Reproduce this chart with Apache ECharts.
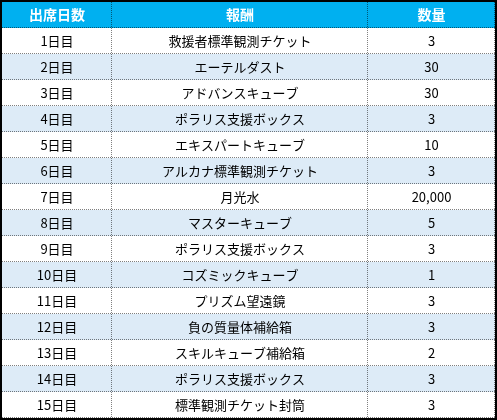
<!DOCTYPE html>
<html><head><meta charset="utf-8">
<script src="https://cdn.jsdelivr.net/npm/echarts@6/dist/echarts.min.js"></script>
<style>html,body{margin:0;padding:0;background:#fff}#c{width:497px;height:420px}</style>
</head><body><div id="c"></div>
<script>
const headers = ['出席日数','報酬','数量'];
const days = ['1日目','2日目','3日目','4日目','5日目','6日目','7日目','8日目','9日目','10日目','11日目','12日目','13日目','14日目','15日目'];
const rewards = ['救援者標準観測チケット','エーテルダスト','アドバンスキューブ','ポラリス支援ボックス','エキスパートキューブ','アルカナ標準観測チケット','月光水','マスターキューブ','ポラリス支援ボックス','コズミックキューブ','プリズム望遠鏡','負の質量体補給箱','スキルキューブ補給箱','ポラリス支援ボックス','標準観測チケット封筒'];
const quantities = ['3','30','30','3','10','3','20,000','5','3','1','3','3','2','3','3'];

const colEdges = [0, 110, 366, 493];
const rows = [headers].concat(days.map((d,i)=>[d, rewards[i], quantities[i]]));
const data = [];
rows.forEach((r,ri)=>r.forEach((t,ci)=>data.push([ci, ri, t])));
const font = '"Noto Sans CJK JP","Noto Sans",sans-serif';

const chart = echarts.init(document.getElementById('c'));
chart.setOption({
  animation:false,
  grid:{left:2,top:2,width:493,height:416},
  xAxis:{type:'value',min:0,max:493,show:false},
  yAxis:{type:'category',data:rows.map((r,i)=>i),inverse:true,show:false},
  series:[{
    type:'custom',
    data:data,
    renderItem:function(params, api){
      const ci = api.value(0), ri = api.value(1);
      const h = api.size([0,1])[1];
      const c = api.coord([colEdges[ci], ri]);
      const c2 = api.coord([colEdges[ci+1], ri]);
      const x = c[0], y = c[1]-h/2, w = c2[0]-c[0];
      const header = ri===0;
      const fill = header ? '#00B0F0' : (ri%2===0 ? '#DDEBF7' : '#FFFFFF');
      const children = [
        {type:'rect',shape:{x:x,y:y,width:w,height:h},style:{fill:fill}},
        {type:'line',shape:{x1:x+w,y1:y,x2:x+w,y2:y+h},style:{stroke:'#000',lineWidth:1,lineDash:[1,1]}},
        {type:'line',shape:{x1:x,y1:y+h,x2:x+w,y2:y+h},style:{stroke:'#000',lineWidth:1,lineDash:[1,1]}},
        {type:'text',style:{x:x+w/2,y:y+h/2,text:rows[ri][ci],align:'center',verticalAlign:'middle',
          fill: header?'#fff':'#000', font:(header?'bold 14px ':'13px ')+font}}
      ];
      return {type:'group',children:children};
    }
  }],
  graphic:[{type:'rect',shape:{x:1,y:1,width:495,height:418},style:{fill:null,stroke:'#000',lineWidth:2},z:100}]
});
</script></body></html>
